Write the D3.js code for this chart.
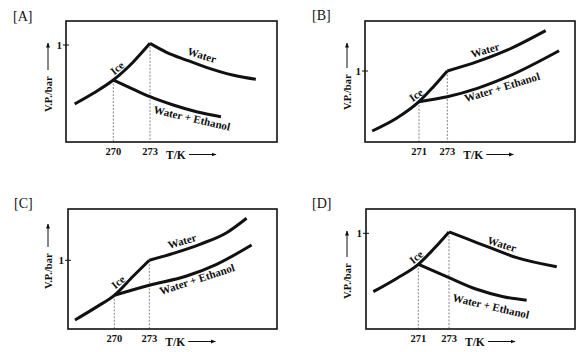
<!DOCTYPE html>
<html>
<head>
<meta charset="utf-8">
<script src="https://cdn.jsdelivr.net/npm/d3@7"></script>
<style>
  body { margin: 0; background: #fff; }
  text { font-family: "Liberation Serif", "Times New Roman", serif; fill: #111; }
</style>
</head>
<body>
<div id="chart"></div>
<script>
// --------------------------------------
//  Data  (T in K, vapour pressure in bar)
// --------------------------------------

const ticksA = [270, 273];
const iceA   = [[266.84, 0.392], [268.4, 0.505], [270, 0.639], [271.65, 0.828], [273, 1.017]];
const waterA = [[273, 1.017], [274.35, 0.925], [275.97, 0.845], [277.6, 0.77], [279.75, 0.691], [281.65, 0.646]];
const mixA   = [[270, 0.639], [271.65, 0.543], [273, 0.467], [274.9, 0.381], [276.8, 0.312], [278.8, 0.261]];

const ticksB = [271, 273];
const iceB   = [[267.69, 0.155], [269.41, 0.334], [271, 0.568], [272.02, 0.779], [273, 1.0]];
const waterB = [[273, 1.0], [275.12, 1.131], [277.26, 1.296], [279.95, 1.568]];
const mixB   = [[271, 0.568], [273, 0.638], [275.12, 0.756], [277.26, 0.92], [280.9, 1.286]];

const ticksC = [270, 273];
const iceC   = [[266.63, 0.135], [268.49, 0.325], [270, 0.493], [271.63, 0.772], [273, 1.0]];
const waterC = [[273, 1.0], [275.06, 1.101], [277.34, 1.232], [279.63, 1.4], [281.34, 1.609]];
const mixC   = [[270, 0.493], [273, 0.638], [276.2, 0.772], [278.77, 0.942], [281.77, 1.222]];

const ticksD = [271, 273];
const iceD   = [[268.07, 0.392], [269.59, 0.53], [271, 0.677], [271.98, 0.833], [273, 1.014]];
const waterD = [[273, 1.014], [274.15, 0.944], [275.67, 0.85], [277.41, 0.746], [280.02, 0.652]];
const mixD   = [[271, 0.677], [273, 0.538], [274.8, 0.417], [276.54, 0.34], [278.06, 0.302]];

// --------------------------------------
//  Panel layout
// --------------------------------------

const panels = [
  { tag: "[A]", tagPos: [13, 21], box: [66, 21, 277, 142], xPx: [113.3, 150], yPx: [142, 45],
    ticks: ticksA, ice: iceA, water: waterA, mix: mixA, vp: [48, 112, 43],
    lbl: { water: [202, 55, 17], ice: [117, 68, -40], mix: [192, 118, 13] } },
  { tag: "[B]", tagPos: [312, 20], box: [365, 21, 575, 142], xPx: [419, 447.3], yPx: [142, 71],
    ticks: ticksB, ice: iceB, water: waterB, mix: mixB, vp: [347, 110, 43],
    lbl: { water: [485, 50, -17], ice: [416, 95, -35], mix: [502, 87, -17] } },
  { tag: "[C]", tagPos: [14, 208], box: [68, 209, 277, 329], xPx: [114.3, 149.3], yPx: [329.3, 260.3],
    ticks: ticksC, ice: iceC, water: waterC, mix: mixC, vp: [48, 289, 224],
    lbl: { water: [182, 241, -17], ice: [118, 282, -40], mix: [197, 279, -18] } },
  { tag: "[D]", tagPos: [312, 208], box: [366, 209, 575, 329], xPx: [418.3, 449], yPx: [329.3, 233.3],
    ticks: ticksD, ice: iceD, water: waterD, mix: mixD, vp: [347, 299, 231],
    lbl: { water: [502, 244, 17], ice: [416, 257, -40], mix: [491, 306, 13] } }
];

const svg = d3.select("#chart")
  .append("svg")
    .attr("width", 576)
    .attr("height", 352);

svg.append("defs").append("marker")
    .attr("id", "arr")
    .attr("viewBox", "0 0 10 10")
    .attr("refX", 9).attr("refY", 5)
    .attr("markerWidth", 5).attr("markerHeight", 5)
    .attr("markerUnits", "userSpaceOnUse")
    .attr("orient", "auto")
  .append("path")
    .attr("d", "M0,1 L10,5 L0,9 Z")
    .attr("fill", "#111");

panels.forEach(p => {
  const [x0, y0, x1, y1] = p.box;
  const g = svg.append("g");

  const x = d3.scaleLinear().domain(p.ticks).range(p.xPx);
  const y = d3.scaleLinear().domain([0, 1]).range(p.yPx);

  const line = d3.line()
    .x(d => x(d[0]))
    .y(d => y(d[1]))
    .curve(d3.curveMonotoneX);

  // panel tag
  g.append("text")
    .attr("x", p.tagPos[0]).attr("y", p.tagPos[1])
    .attr("font-size", 14)
    .text(p.tag);

  // dashed guides at the two temperatures
  const tops = [p.mix[0], p.water[0]];
  g.selectAll(".guide")
    .data(tops)
    .join("line")
    .attr("x1", d => x(d[0])).attr("x2", d => x(d[0]))
    .attr("y1", d => y(d[1])).attr("y2", y1)
    .attr("stroke", "#666")
    .attr("stroke-width", 0.8)
    .attr("stroke-dasharray", "2,1.5");

  // curves
  [p.ice, p.water, p.mix].forEach(s => {
    g.append("path")
      .attr("d", line(s))
      .attr("fill", "none")
      .attr("stroke", "#111")
      .attr("stroke-width", 3)
      .attr("stroke-linejoin", "round");
  });

  // frame
  g.append("rect")
    .attr("x", x0).attr("y", y0)
    .attr("width", x1 - x0).attr("height", y1 - y0)
    .attr("fill", "none")
    .attr("stroke", "#111")
    .attr("stroke-width", 1.6);

  // y tick "1"
  g.append("line")
    .attr("x1", x0 - 3).attr("x2", x0 + 3)
    .attr("y1", y(1)).attr("y2", y(1))
    .attr("stroke", "#111").attr("stroke-width", 1);
  g.append("text")
    .attr("x", x0 - 4).attr("y", y(1) + 4)
    .attr("text-anchor", "end")
    .attr("font-size", 11).attr("font-weight", "bold")
    .text("1");

  // x tick labels
  g.selectAll(".tk")
    .data(p.ticks)
    .join("text")
    .attr("x", d => x(d))
    .attr("y", y1 + 13)
    .attr("text-anchor", "middle")
    .attr("font-size", 10.5).attr("font-weight", "bold")
    .text(d => d);

  // T/K with arrow
  const tx = x(p.ticks[1]) + 16;
  const ty = y1 + 16.5;
  g.append("text")
    .attr("x", tx).attr("y", ty)
    .attr("font-size", 11.5).attr("font-weight", "bold")
    .text("T/K");
  g.append("line")
    .attr("x1", tx + 23).attr("x2", tx + 50)
    .attr("y1", ty - 4).attr("y2", ty - 4)
    .attr("stroke", "#111").attr("stroke-width", 1)
    .attr("marker-end", "url(#arr)");

  // V.P./bar with arrow
  const [vx, vb, vt] = p.vp;
  g.append("text")
    .attr("transform", `translate(${vx + 4}, ${vb}) rotate(-90)`)
    .attr("font-size", 10.5).attr("font-weight", "bold")
    .text("V.P./bar");
  g.append("line")
    .attr("x1", vx).attr("x2", vx)
    .attr("y1", vb - 42).attr("y2", vt)
    .attr("stroke", "#111").attr("stroke-width", 1)
    .attr("marker-end", "url(#arr)");

  // curve labels
  const names = [["water", "Water"], ["ice", "Ice"], ["mix", "Water + Ethanol"]];
  names.forEach(([k, t]) => {
    const [lx, ly, r] = p.lbl[k];
    g.append("text")
      .attr("transform", `translate(${lx}, ${ly}) rotate(${r})`)
      .attr("text-anchor", "middle")
      .attr("dominant-baseline", "central")
      .attr("font-size", 11).attr("font-weight", "bold")
      .text(t);
  });
});
</script>
</body>
</html>
